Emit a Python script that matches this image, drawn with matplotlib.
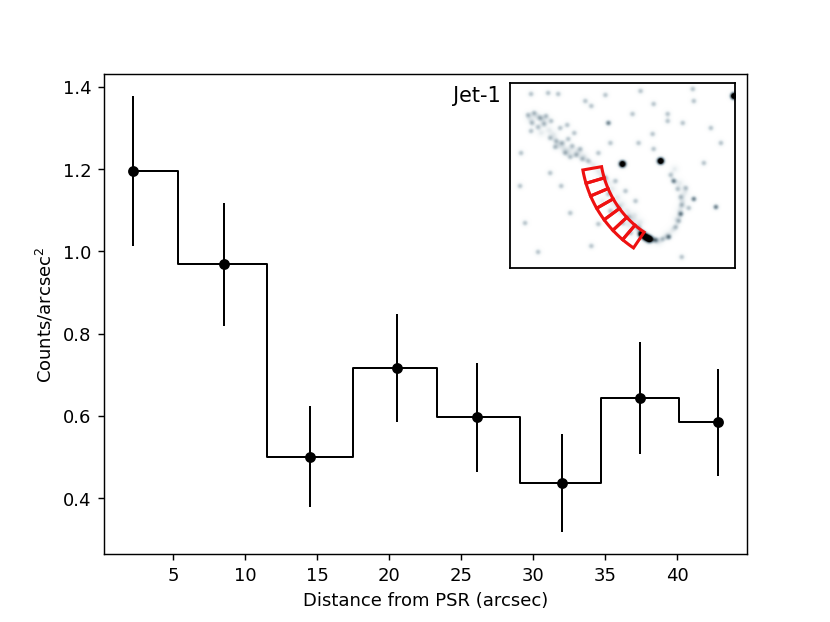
import numpy as np
import matplotlib
matplotlib.use("Agg")
import matplotlib.pyplot as plt
from matplotlib.patches import Wedge
from matplotlib.colors import LinearSegmentedColormap

# ---- profile data ----
distance = [2.2, 8.5, 14.5, 20.5, 26.1, 32.0, 37.4, 42.8]
counts = [1.195, 0.968, 0.500, 0.716, 0.596, 0.437, 0.643, 0.584]
counts_err = [0.183, 0.150, 0.123, 0.131, 0.133, 0.119, 0.136, 0.131]

xlabel = "Distance from PSR (arcsec)"
ylabel = "Counts/arcsec$^2$"
inset_label = "Jet-1"

# ---- inset image features (positions, inset pixel units) ----
bright_x = [112, 150, 223, 135, 139, 131]
bright_y = [81, 78, 13, 154, 156, 151]
medium_x = [98, 205, 183, 163, 170, 158, 145]
medium_y = [40, 124, 116, 98, 131, 154, 157]
faint_x = [18, 24, 30, 36, 41, 22, 28, 34, 40, 46, 52, 58, 62, 45, 55, 60, 66, 72, 78, 70, 64, 50, 57,
           38, 48, 75, 81, 21, 11, 21, 10, 51, 81, 28, 171, 122, 128, 143, 157, 157, 172, 142, 143,
           183, 182, 193, 95, 130, 200, 210, 15, 60, 40, 100, 88,
           98, 105, 115, 108, 118, 125, 88, 95, 112, 128, 120, 100,
           152, 165, 168, 171, 170, 167, 160, 175, 178]
faint_y = [32, 30, 35, 33, 38, 40, 44, 41, 55, 58, 60, 56, 63, 64, 70, 74, 72, 76, 78, 66, 50, 45, 42,
           10, 11, 18, 23, 11, 70, 48, 103, 103, 163, 169, 174, 31, 60, 21, 31, 38, 40, 51, 66,
           18, 6, 80, 12, 8, 45, 60, 140, 130, 90, 60, 70,
           111, 98, 108, 124, 134, 118, 141, 95, 140, 145, 150, 128,
           156, 144, 138, 122, 114, 106, 92, 105, 125]
haze_x = [20, 27, 33, 39, 31, 44, 49, 54, 59, 67, 74, 83, 88, 92, 97, 102, 107, 112, 117, 122, 126,
          92, 103, 110, 118, 124, 130, 138, 148, 156, 162, 166, 169, 172, 174, 169, 164]
haze_y = [36, 33, 37, 47, 50, 52, 62, 66, 68, 69, 73, 82, 88, 93, 100, 106, 114, 121, 128, 137, 144,
          118, 120, 130, 142, 132, 139, 158, 159, 152, 147, 136, 127, 118, 110, 100, 86]

# red extraction region (annular strip) in inset pixel units
region_center = (190, 66)
region_r_outer = 119
region_width = 19
region_theta = [124, 130.6, 137.1, 143.7, 150.3, 156.9, 163.4, 170]

fig = plt.figure(figsize=(6.4, 4.8), dpi=129.7)
ax = fig.add_subplot(111)
ax.plot(distance, counts, drawstyle="steps-mid", color="black", lw=1.1)
ax.errorbar(distance, counts, yerr=counts_err, fmt="o", color="black", ms=5,
            elinewidth=1.1, capsize=0)
ax.set_xlabel(xlabel)
ax.set_ylabel(ylabel)
ax.set_xticks([5, 10, 15, 20, 25, 30, 35, 40])

# ---- inset ----
W, H = 225, 185
yy, xx = np.mgrid[0:H, 0:W] + 0.5
img = np.zeros((H, W))


def add_blobs(xs, ys, amp, sig):
    out = np.zeros((H, W))
    for bx, by in zip(xs, ys):
        out += amp * np.exp(-((xx - bx) ** 2 + (yy - by) ** 2) / (2 * sig ** 2))
    return out


img += add_blobs(bright_x, bright_y, 1.6, 2.3)
img += add_blobs(medium_x, medium_y, 0.5, 2.0)
img += add_blobs(faint_x, faint_y, 0.28, 2.1)
img += add_blobs(haze_x, haze_y, 0.12, 3.0)
img = np.clip(img, 0, 1)

cmap = LinearSegmentedColormap.from_list(
    "xray", [(0, "white"), (0.08, "#f4f7f8"), (0.25, "#c5d0d6"), (0.55, "#6d818c"),
             (0.85, "#1a1a1a"), (1, "black")])

axin = fig.add_axes([510 / 830, 1 - 269 / 623, 225 / 830, 185 / 623])
axin.imshow(img, cmap=cmap, vmin=0, vmax=1, extent=[0, W, H, 0], aspect="auto",
            interpolation="bilinear")
for t0, t1 in zip(region_theta[:-1], region_theta[1:]):
    axin.add_patch(Wedge(region_center, region_r_outer, t0, t1, width=region_width,
                         fill=False, edgecolor="#ee1111", lw=1.7))
axin.set_xlim(0, W)
axin.set_ylim(H, 0)
axin.set_xticks([])
axin.set_yticks([])
for s in axin.spines.values():
    s.set_linewidth(1.0)

fig.text(501 / 830, 1 - 96 / 623, inset_label, ha="right", va="center", fontsize=11.5)

fig.savefig("out.png", dpi=129.7)
